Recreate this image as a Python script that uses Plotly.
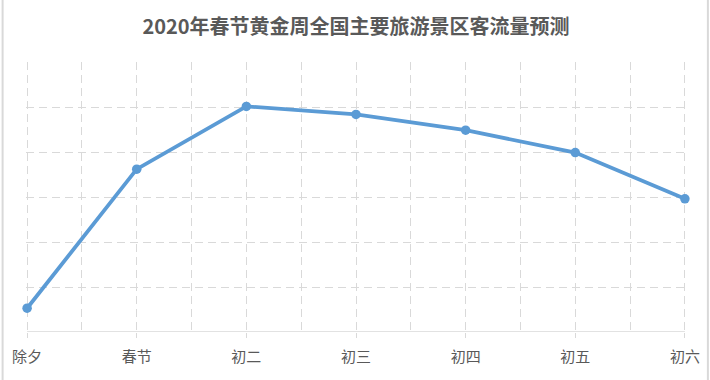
import plotly.graph_objects as go

categories = ["除夕", "春节", "初二", "初三", "初四", "初五", "初六"]
values = [0.53, 3.63, 5.03, 4.85, 4.5, 4.0, 2.97]
title_text = "2020年春节黄金周全国主要旅游景区客流量预测"

W, H = 710, 380
# target pixel frame: x 0 -> 27px, x 6 -> 685px ; y 0 -> 332px, y 6 -> 63px
ppx = (685 - 27) / 6.0
ppy = (332 - 63) / 6.0
xpad, ypad = 0.01, 0.02
ml = 27 - xpad * ppx
mr = (W - 685) - xpad * ppx
mt = 63 - ypad * ppy
mb = H - 332
pw = W - ml - mr
ph = H - mt - mb

x_idx = list(range(len(categories)))

fig = go.Figure()
fig.add_trace(go.Scatter(
    x=x_idx, y=values, mode="lines+markers",
    line=dict(color="#5B9BD5", width=3.8),
    marker=dict(color="#5B9BD5", size=9.5),
    cliponaxis=False, hoverinfo="skip", showlegend=False,
))

grid_c = "#d9d9d9"
dash = "8px,5px"
fig.update_layout(
    width=W, height=H,
    margin=dict(l=ml, r=mr, t=mt, b=mb, autoexpand=False),
    paper_bgcolor="white", plot_bgcolor="white",
    font=dict(family="Noto Sans CJK SC, sans-serif", color="#595959"),
    title=dict(text="<b>" + title_text + "</b>", x=0.5, xanchor="center",
               xref="paper", y=1 - 27 / H, yanchor="middle", yref="container",
               font=dict(size=20, color="#595959")),
    xaxis=dict(
        range=[-xpad, 6 + xpad], tickmode="array", tickvals=x_idx, ticktext=categories,
        showgrid=True, gridcolor=grid_c, griddash=dash, gridwidth=1.2,
        minor=dict(tickmode="array", tickvals=[i + 0.5 for i in range(6)],
                   showgrid=True, gridcolor=grid_c, griddash=dash, gridwidth=1.2),
        showline=False, ticks="outside", ticklen=5, tickcolor=grid_c,
        ticklabelstandoff=6,
        tickfont=dict(size=15, color="#595959"), zeroline=False,
        automargin=False, fixedrange=True,
    ),
    yaxis=dict(
        range=[0, 6 + ypad], dtick=1, showticklabels=False,
        showgrid=True, gridcolor=grid_c, griddash=dash, gridwidth=1.2,
        zeroline=False, showline=False, automargin=False, fixedrange=True,
    ),
    shapes=[
        dict(type="line", xref="x", yref="y", x0=0, x1=6, y0=0, y1=0,
             line=dict(color=grid_c, width=1.5), layer="below"),
        dict(type="line", xref="paper", yref="paper",
             x0=(2.5 - ml) / pw, x1=(2.5 - ml) / pw,
             y0=-(mb) / ph, y1=(H - mb) / ph,
             line=dict(color=grid_c, width=2)),
        dict(type="line", xref="paper", yref="paper",
             x0=(708 - ml) / pw, x1=(708 - ml) / pw,
             y0=-(mb) / ph, y1=(H - mb) / ph,
             line=dict(color=grid_c, width=2)),
    ],
)

fig.write_html("out.html", config={"displayModeBar": False},
               post_script="document.body.style.margin='0';document.body.style.overflow='hidden';")
